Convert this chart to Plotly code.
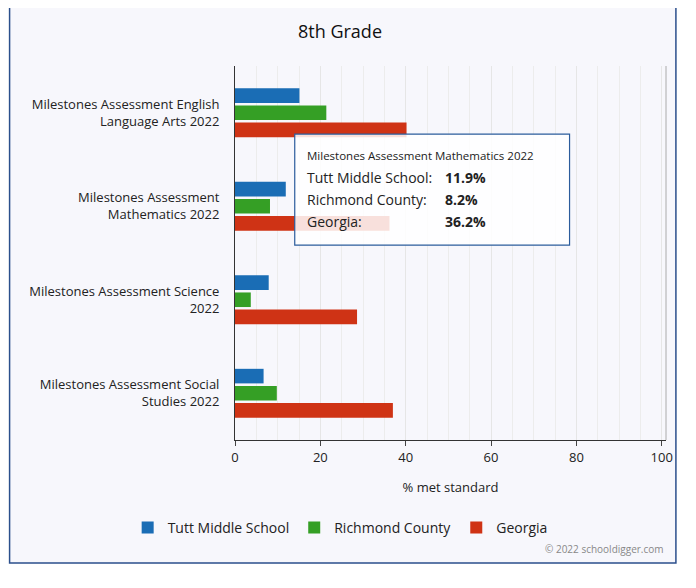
import plotly.graph_objects as go

categories = ["Milestones Assessment English<br>Language Arts 2022",
              "Milestones Assessment<br>Mathematics 2022",
              "Milestones Assessment Science<br>2022",
              "Milestones Assessment Social<br>Studies 2022"]
tutt = [15.1, 11.9, 7.9, 6.7]
richmond = [21.4, 8.2, 3.7, 9.8]
georgia = [40.2, 36.2, 28.6, 37.0]
series = [("Tutt Middle School", tutt, "#1a6db5"),
          ("Richmond County", richmond, "#359f25"),
          ("Georgia", georgia, "#cf3315")]

fig = go.Figure()
for name, vals, col in series:
    fig.add_trace(go.Bar(y=categories, x=vals, name=name, orientation="h",
                         marker=dict(color=col, line=dict(width=0))))

tip_labels = ["Tutt Middle School:", "Richmond County:", "Georgia:"]
tip_values = ["11.9%", "8.2%", "36.2%"]
row_y = [0.703, 0.644, 0.583]

ann = [dict(text="© 2022 schooldigger.com", xref="paper", yref="paper", x=1.0, y=-0.316,
            xanchor="right", yanchor="bottom", showarrow=False, font=dict(size=10, color="#888")),
       dict(text="8th Grade", xref="paper", yref="paper", x=0.244, y=1.093, xanchor="center",
            yanchor="middle", showarrow=False, font=dict(size=18, color="#111")),
       dict(text="Milestones Assessment Mathematics 2022", xref="x", yref="paper", x=16.3, y=0.762,
            xanchor="left", yanchor="middle", showarrow=False, font=dict(size=11.5, color="#222"))]
for lab, val, yy in zip(tip_labels, tip_values, row_y):
    ann.append(dict(text=lab, xref="x", yref="paper", x=16.3, y=yy, xanchor="left", yanchor="middle",
                    showarrow=False, font=dict(size=14, color="#222")))
    ann.append(dict(text="<b>" + val + "</b>", xref="x", yref="paper", x=48.8, y=yy, xanchor="left",
                    yanchor="middle", showarrow=False, font=dict(size=14, color="#222")))

fig.update_layout(
    width=680, height=572, barmode="group", bargap=0.45, bargroupgap=0.15,
    paper_bgcolor="white", plot_bgcolor="white",
    font=dict(family="Open Sans", size=13, color="#222"),
    margin=dict(l=227, r=22, t=58, b=140),
    xaxis=dict(range=[0, 101], dtick=20, showgrid=True, gridcolor="#e6e6e6",
               minor=dict(dtick=5, showgrid=True, gridcolor="#ececec"),
               showline=True, linecolor="#333", ticks="outside", ticklen=5,
               title=dict(text="% met standard", font=dict(size=13), standoff=18), zeroline=False),
    yaxis=dict(autorange="reversed", showline=True, linecolor="#333", ticks="",
               ticklabelstandoff=12),
    legend=dict(orientation="h", x=0.244, xanchor="center", y=-0.235, yanchor="middle",
                font=dict(size=14), traceorder="normal", bgcolor="rgba(0,0,0,0)"),
    shapes=[dict(type="rect", xref="paper", yref="paper", x0=-0.523, x1=1.023, y0=-0.329, y1=1.163,
                 line=dict(color="#2b4f8c", width=1.5), fillcolor="#f7f7fc", layer="below"),
            dict(type="line", xref="paper", yref="paper", x0=1, x1=1, y0=0, y1=1,
                 line=dict(color="#aaa", width=1)),
            dict(type="rect", xref="x", yref="paper", x0=14, x1=78.4, y0=0.521, y1=0.818,
                 line=dict(color="#2b5c9c", width=1.2), fillcolor="rgba(255,255,255,0.85)")],
    annotations=ann,
)
fig.write_html("out.html")
